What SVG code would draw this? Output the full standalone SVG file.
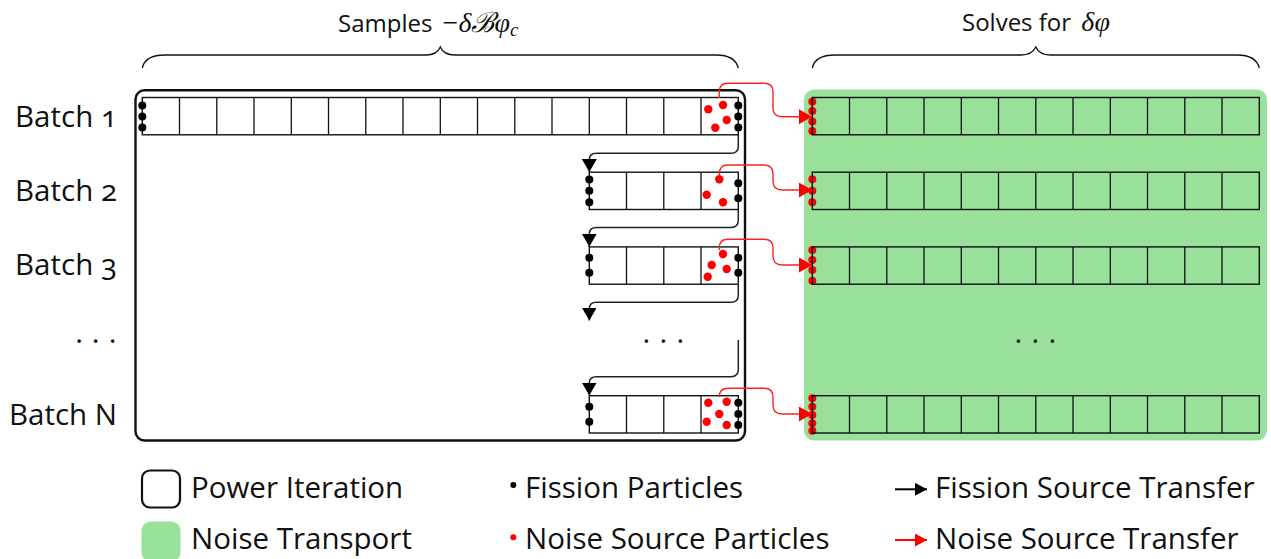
<svg xmlns="http://www.w3.org/2000/svg" width="1271" height="559" viewBox="0 0 1271 559">
<style>
.t{font-family:"Open Sans","DejaVu Sans",sans-serif;font-size:29.5px;fill:#111;font-variant-numeric:oldstyle-nums;font-feature-settings:"onum" 1}
.ti{font-family:"Open Sans","DejaVu Sans",sans-serif;font-size:24px;fill:#111}
.m{font-family:"Liberation Serif","DejaVu Serif",serif;font-style:italic;font-size:28px}
.sub{font-family:"Liberation Serif","DejaVu Serif",serif;font-style:italic;font-size:19px}
.row{fill:none;stroke:#111;stroke-width:1.4}
.cell{stroke:#111;stroke-width:1.3}
.bd{fill:#000}
.rd{fill:#f00}
.blk{fill:none;stroke:#222;stroke-width:1.5}
.red{fill:none;stroke:#f22;stroke-width:1.4}
.brace{fill:none;stroke:#111;stroke-width:1.3}
</style>
<defs>
<marker id="ab" viewBox="0 0 13 15" refX="13" refY="7.5" markerWidth="13" markerHeight="15" markerUnits="userSpaceOnUse" orient="auto"><path d="M0,0 L13,7.5 L0,15 z" fill="#000"/></marker>
<marker id="ar" viewBox="0 0 13 15" refX="13" refY="7.5" markerWidth="13" markerHeight="15" markerUnits="userSpaceOnUse" orient="auto"><path d="M0,0 L13,7.5 L0,15 z" fill="#f00"/></marker>
<marker id="lb" viewBox="0 0 12 13" refX="12" refY="6.5" markerWidth="12" markerHeight="13" markerUnits="userSpaceOnUse" orient="auto"><path d="M0,0 L12,6.5 L0,13 z" fill="#000"/></marker>
<marker id="lr" viewBox="0 0 12 13" refX="12" refY="6.5" markerWidth="12" markerHeight="13" markerUnits="userSpaceOnUse" orient="auto"><path d="M0,0 L12,6.5 L0,13 z" fill="#f00"/></marker>
</defs>

<g id="titles">
<text class="ti" x="338" y="32">Samples <tspan class="m" style="font-style:normal" dx="4">−</tspan><tspan class="m">δℬφ</tspan><tspan class="sub" dy="4">c</tspan></text>
<text class="ti" x="962" y="31">Solves for <tspan class="m" dx="4">δφ</tspan></text>
<path class="brace" d="M142.3 68 Q145 55 165 55 H426 Q437 55 440.3 47 Q443.6 55 455 55 H716 Q735 55 738.3 68"/>
<path class="brace" d="M812.3 68 Q815 55 835 55 H1021 Q1032 55 1035.8 47 Q1039.6 55 1050 55 H1237 Q1256 55 1259.3 68"/>
</g>

<g id="power-iteration">
<rect x="135.5" y="90.3" width="609.5" height="350.2" rx="9" fill="none" stroke="#111" stroke-width="2.4"/>
</g>
<g id="noise-transport">
<rect x="804" y="89.5" width="463" height="351" rx="10" fill="#99e19a"/>
</g>

<g id="labels">
<text class="t" x="117" y="127" text-anchor="end">Batch 1</text>
<text class="t" x="117" y="201" text-anchor="end">Batch 2</text>
<text class="t" x="117" y="275" text-anchor="end">Batch 3</text>
<text class="t" x="117" y="425" text-anchor="end">Batch N</text>
<text class="t" x="79 95.7 112.7" y="351" text-anchor="middle">···</text>
<text class="t" x="646.3 663.3 680.3" y="351" text-anchor="middle">···</text>
<text class="t" x="1018.3 1035.3 1052.3" y="351" text-anchor="middle">···</text>
</g>

<g id="batch-1">
<rect class="row" x="142.3" y="97.5" width="596" height="37.3"/>
<path class="cell" d="M179.5 97.5V134.8M216.8 97.5V134.8M254 97.5V134.8M291.3 97.5V134.8M328.5 97.5V134.8M365.8 97.5V134.8M403 97.5V134.8M440.3 97.5V134.8M477.5 97.5V134.8M514.8 97.5V134.8M552 97.5V134.8M589.3 97.5V134.8M626.5 97.5V134.8M663.8 97.5V134.8M701 97.5V134.8"/>
<g class="bd"><circle cx="142.3" cy="105.5" r="4"/><circle cx="142.3" cy="116.5" r="4"/><circle cx="142.3" cy="127.5" r="4"/>
<circle cx="738.3" cy="105.5" r="4"/><circle cx="738.3" cy="116.5" r="4"/><circle cx="738.3" cy="127.5" r="4"/></g>
<g class="rd"><circle cx="708.3" cy="109.3" r="4.2"/><circle cx="723" cy="105" r="4.2"/><circle cx="726.7" cy="120" r="4.2"/><circle cx="715.3" cy="127.7" r="4.2"/></g>
</g>

<g id="batch-2">
<rect class="row" x="589.3" y="172.2" width="149" height="37.3"/>
<path class="cell" d="M626.5 172.2V209.5M663.8 172.2V209.5M701 172.2V209.5"/>
<g class="bd"><circle cx="589.3" cy="179.5" r="4"/><circle cx="589.3" cy="190.8" r="4"/><circle cx="589.3" cy="202.2" r="4"/>
<circle cx="738.3" cy="183.3" r="4"/><circle cx="738.3" cy="198.3" r="4"/></g>
<g class="rd"><circle cx="719.3" cy="179.3" r="4.2"/><circle cx="706.7" cy="194.7" r="4.2"/><circle cx="723" cy="202.3" r="4.2"/></g>
</g>

<g id="batch-3">
<rect class="row" x="589.3" y="246.9" width="149" height="37.3"/>
<path class="cell" d="M626.5 246.9V284.2M663.8 246.9V284.2M701 246.9V284.2"/>
<g class="bd"><circle cx="589.3" cy="257.7" r="4"/><circle cx="589.3" cy="272.7" r="4"/>
<circle cx="738.3" cy="257.7" r="4"/><circle cx="738.3" cy="272.7" r="4"/></g>
<g class="rd"><circle cx="723" cy="254" r="4.2"/><circle cx="711.7" cy="265" r="4.2"/><circle cx="726.7" cy="269" r="4.2"/><circle cx="707.7" cy="276.7" r="4.2"/></g>
</g>

<g id="batch-n">
<rect class="row" x="589.3" y="395.7" width="149" height="37.3"/>
<path class="cell" d="M626.5 395.7V433M663.8 395.7V433M701 395.7V433"/>
<g class="bd"><circle cx="589.3" cy="406.7" r="4"/><circle cx="589.3" cy="421.7" r="4"/>
<circle cx="738.3" cy="402.7" r="4"/><circle cx="738.3" cy="414" r="4"/><circle cx="738.3" cy="425" r="4"/></g>
<g class="rd"><circle cx="708.3" cy="402.7" r="4.2"/><circle cx="726.7" cy="401.7" r="4.2"/><circle cx="719.3" cy="414" r="4.2"/><circle cx="706.7" cy="421.7" r="4.2"/><circle cx="726.7" cy="425" r="4.2"/></g>
</g>

<g id="noise-1">
<g class="rd"><circle cx="812.3" cy="101.7" r="4"/><circle cx="812.3" cy="111" r="4"/><circle cx="812.3" cy="121.5" r="4"/><circle cx="812.3" cy="131" r="4"/></g>
<rect class="row" x="812.3" y="97.5" width="447" height="37.3"/>
<path class="cell" d="M849.5 97.5V134.8M886.8 97.5V134.8M924 97.5V134.8M961.3 97.5V134.8M998.5 97.5V134.8M1035.8 97.5V134.8M1073 97.5V134.8M1110.3 97.5V134.8M1147.5 97.5V134.8M1184.8 97.5V134.8M1222 97.5V134.8"/>
</g>
<g id="noise-2">
<g class="rd"><circle cx="812.3" cy="179.3" r="4"/><circle cx="812.3" cy="190.7" r="4"/><circle cx="812.3" cy="202.3" r="4"/></g>
<rect class="row" x="812.3" y="172.2" width="447" height="37.3"/>
<path class="cell" d="M849.5 172.2V209.5M886.8 172.2V209.5M924 172.2V209.5M961.3 172.2V209.5M998.5 172.2V209.5M1035.8 172.2V209.5M1073 172.2V209.5M1110.3 172.2V209.5M1147.5 172.2V209.5M1184.8 172.2V209.5M1222 172.2V209.5"/>
</g>
<g id="noise-3">
<g class="rd"><circle cx="812.3" cy="250" r="4"/><circle cx="812.3" cy="260" r="4"/><circle cx="812.3" cy="270" r="4"/><circle cx="812.3" cy="280.7" r="4"/></g>
<rect class="row" x="812.3" y="246.9" width="447" height="37.3"/>
<path class="cell" d="M849.5 246.9V284.2M886.8 246.9V284.2M924 246.9V284.2M961.3 246.9V284.2M998.5 246.9V284.2M1035.8 246.9V284.2M1073 246.9V284.2M1110.3 246.9V284.2M1147.5 246.9V284.2M1184.8 246.9V284.2M1222 246.9V284.2"/>
</g>
<g id="noise-n">
<g class="rd"><circle cx="812.3" cy="398.3" r="4"/><circle cx="812.3" cy="406.7" r="4"/><circle cx="812.3" cy="415" r="4"/><circle cx="812.3" cy="423.3" r="4"/><circle cx="812.3" cy="430.7" r="4"/></g>
<rect class="row" x="812.3" y="395.7" width="447" height="37.3"/>
<path class="cell" d="M849.5 395.7V433M886.8 395.7V433M924 395.7V433M961.3 395.7V433M998.5 395.7V433M1035.8 395.7V433M1073 395.7V433M1110.3 395.7V433M1147.5 395.7V433M1184.8 395.7V433M1222 395.7V433"/>
</g>

<g id="connectors">
<path class="blk" marker-end="url(#ab)" d="M738.3 135 V146 Q738.3 153.3 731 153.3 H596.5 Q589.3 153.3 589.3 160 V172"/>
<path class="blk" marker-end="url(#ab)" d="M738.3 209.5 V220 Q738.3 227.5 731 227.5 H596.5 Q589.3 227.5 589.3 234 V246.7"/>
<path class="blk" marker-end="url(#ab)" d="M738.3 284.2 V295 Q738.3 302.3 731 302.3 H596.5 Q589.3 302.3 589.3 309 V320.5"/>
<path class="blk" marker-end="url(#ab)" d="M738.3 340 V369.5 Q738.3 376.7 731 376.7 H596.5 Q589.3 376.7 589.3 383 V395.5"/>
<path class="red" marker-end="url(#ar)" d="M719.3 98 V92 Q719.3 83.3 728 83.3 H764 Q773 83.3 773 92 V108 Q773 116.7 782 116.7 H812"/>
<path class="red" marker-end="url(#ar)" d="M719.3 176 V174 Q719.3 165 728 165 H764 Q773 165 773 174 V181 Q773 190 782 190 H812"/>
<path class="red" marker-end="url(#ar)" d="M719.3 250 V248 Q719.3 239.3 728 239.3 H764 Q773 239.3 773 248 V256 Q773 265 782 265 H812"/>
<path class="red" marker-end="url(#ar)" d="M719.3 397 V397 Q719.3 388.3 728 388.3 H764 Q773 388.3 773 397 V405 Q773 414 782 414 H812"/>
</g>

<g id="legend">
<rect x="142" y="470.5" width="38" height="37" rx="8" fill="none" stroke="#111" stroke-width="2.2"/>
<text class="t" x="191" y="498">Power Iteration</text>
<rect x="141.5" y="521.5" width="39" height="40" rx="9" fill="#99e19a"/>
<text class="t" x="191" y="549">Noise Transport</text>
<circle cx="513.3" cy="485" r="3" fill="#000"/>
<text class="t" x="525" y="498">Fission Particles</text>
<circle cx="513.3" cy="537.3" r="3" fill="#f00"/>
<text class="t" x="525" y="549">Noise Source Particles</text>
<path d="M895 489.3 H927" stroke="#000" stroke-width="2" marker-end="url(#lb)"/>
<text class="t" x="935" y="498">Fission Source Transfer</text>
<path d="M895 540 H927" stroke="#f00" stroke-width="2" marker-end="url(#lr)"/>
<text class="t" x="935" y="549">Noise Source Transfer</text>
</g>
</svg>
